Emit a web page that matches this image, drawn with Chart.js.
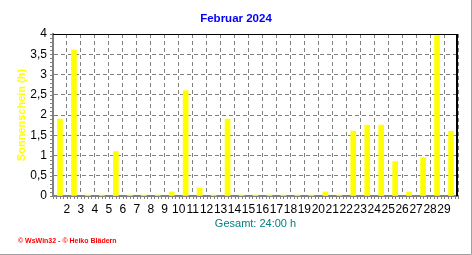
<!DOCTYPE html>
<html>
<head>
<meta charset="utf-8">
<script src="https://cdn.jsdelivr.net/npm/chart.js@4.4.1/dist/chart.umd.min.js"></script>
<style>
  html, body { margin: 0; padding: 0; background: #fff; }
  canvas { display: block; }
</style>
</head>
<body>
<canvas id="chart" width="472" height="255"></canvas>
<script>
// Sonnenschein pro Tag, Februar 2024
const days = ['1', '2', '3', '4', '5', '6', '7', '8', '9', '10', '11', '12', '13', '14', '15',
  '16', '17', '18', '19', '20', '21', '22', '23', '24', '25', '26', '27', '28', '29'];
const sunshine = [1.9, 3.6, 0, 0, 1.1, 0, 0, 0, 0.1, 2.6, 0.2, 0, 1.9, 0, 0,
  0, 0, 0, 0, 0.1, 0, 1.6, 1.75, 1.75, 0.85, 0.1, 0.95, 4.0, 1.6];
const yTicks = [0, 0.5, 1, 1.5, 2, 2.5, 3, 3.5, 4];

const chartTitle = 'Februar 2024';
const yTitle = 'Sonnenschein (h)';
const xTitle = 'Gesamt: 24:00 h';
const footer = '\u00a9 WsWin32 - \u00a9 Heiko Bl\u00e4dern';

const FONT = '"Liberation Sans", Arial, sans-serif';
const GRID = '#808080';

Chart.defaults.font.family = FONT;
Chart.defaults.font.size = 12;
Chart.defaults.color = '#000';

// titles, frame and the small tick marks
const decoPlugin = {
  id: 'deco',
  afterDraw(chart) {
    const { ctx, chartArea: a, scales: { x, y } } = chart;
    ctx.save();

    // minor ticks y (every 0.1)
    ctx.strokeStyle = GRID;
    ctx.lineWidth = 1;
    ctx.beginPath();
    for (let i = 0; i <= 40; i++) {
      const py = Math.round(y.getPixelForValue(i / 10)) + 0.5;
      ctx.moveTo(a.left - 3, py);
      ctx.lineTo(a.left - 1, py);
    }
    // minor ticks x (4 per day)
    const slot = x.width / days.length;
    for (let i = 0; i <= days.length * 4; i++) {
      const px = Math.round(a.left + i * slot / 4) + 0.5;
      ctx.moveTo(px, a.bottom + 1);
      ctx.lineTo(px, a.bottom + 3);
    }
    ctx.stroke();

    // top + right frame
    ctx.strokeStyle = '#000';
    ctx.lineWidth = 1;
    ctx.beginPath();
    ctx.moveTo(a.left, a.top + 0.5);
    ctx.lineTo(a.right, a.top + 0.5);
    ctx.stroke();
    ctx.lineWidth = 2;
    ctx.beginPath();
    ctx.moveTo(a.right - 1, a.top);
    ctx.lineTo(a.right - 1, a.bottom);
    ctx.stroke();

    // outer grey edge
    ctx.strokeStyle = '#a0a0a0';
    ctx.lineWidth = 1;
    ctx.beginPath();
    ctx.moveTo(chart.width - 0.5, 0);
    ctx.lineTo(chart.width - 0.5, chart.height - 0.5);
    ctx.lineTo(0, chart.height - 0.5);
    ctx.stroke();

    ctx.textAlign = 'center';
    ctx.textBaseline = 'middle';

    // title
    ctx.font = 'bold 11.5px ' + FONT;
    ctx.fillStyle = '#0000ff';
    ctx.fillText(chartTitle, chart.width / 2, 19);

    // x title
    ctx.font = '11px ' + FONT;
    ctx.fillStyle = '#008080';
    ctx.fillText(xTitle, (a.left + a.right) / 2, 224);

    // y title
    ctx.save();
    ctx.translate(22, (a.top + a.bottom) / 2);
    ctx.rotate(-Math.PI / 2);
    ctx.font = 'bold 11px ' + FONT;
    ctx.fillStyle = '#ffff00';
    ctx.fillText(yTitle, 0, 0);
    ctx.restore();

    // footer
    ctx.textAlign = 'left';
    ctx.font = 'bold 7px ' + FONT;
    ctx.fillStyle = '#ff0000';
    ctx.fillText(footer, 18, 241);

    ctx.restore();
  }
};

new Chart(document.getElementById('chart'), {
  type: 'bar',
  data: {
    labels: days,
    datasets: [{
      data: sunshine,
      backgroundColor: '#ffff00',
      borderWidth: 0,
      barThickness: 5,
      minBarLength: 1
    }]
  },
  options: {
    responsive: false,
    animation: false,
    layout: { padding: { top: 34, right: 14, left: 0, bottom: 0 } },
    plugins: {
      legend: { display: false },
      tooltip: { enabled: false }
    },
    scales: {
      x: {
        offset: true,
        grid: {
          offset: true,
          color: GRID,
          lineWidth: 1,
          drawTicks: false
        },
        border: { display: true, color: GRID, width: 2, dash: [4, 3] },
        ticks: {
          autoSkip: false,
          maxRotation: 0,
          padding: 6,
          labelOffset: -7,
          callback: (v, i) => (i === 0 ? '' : days[i])
        },
        afterFit: (s) => { s.height = 59; }
      },
      y: {
        min: 0,
        max: 4,
        grid: { color: GRID, lineWidth: 1, drawTicks: false },
        border: { display: true, color: GRID, width: 2, dash: [4, 3] },
        afterBuildTicks: (s) => { s.ticks = yTicks.map(v => ({ value: v })); },
        ticks: {
          padding: 6,
          callback: (v) => String(v).replace('.', ',')
        },
        afterFit: (s) => { s.height; s.width = 53; }
      }
    }
  },
  plugins: [decoPlugin]
});
</script>
</body>
</html>
